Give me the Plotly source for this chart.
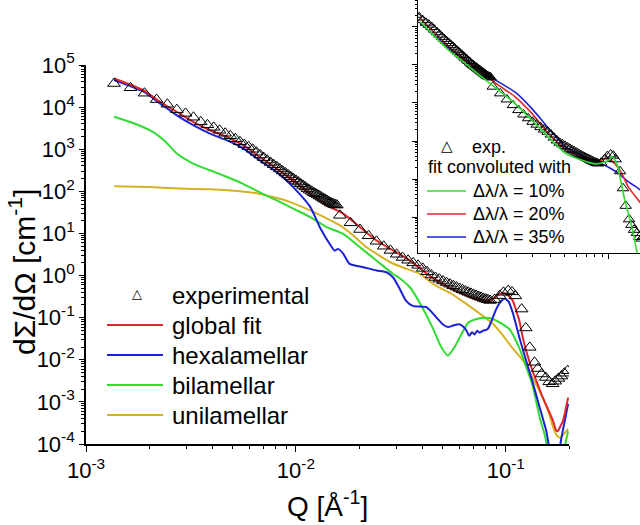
import plotly.graph_objects as go

# ---------------- data ----------------
EXP_Q = [0.00136, 0.00163, 0.00190, 0.00217, 0.00244, 0.00271, 0.00298, 0.00325, 0.00352, 0.00379,
         0.00406, 0.00433, 0.00460, 0.00487, 0.00514, 0.00541, 0.00568, 0.00595, 0.00622, 0.00649,
         0.00676, 0.00703, 0.00730, 0.00757, 0.00784, 0.00811, 0.00838, 0.00865, 0.00892, 0.00919,
         0.00946, 0.00973, 0.01000, 0.01027, 0.01054, 0.01081, 0.01108, 0.01135, 0.01162, 0.01189,
         0.01216, 0.01243, 0.01270, 0.01297, 0.01324, 0.01351, 0.01378, 0.01405, 0.01432, 0.01459,
         0.01486, 0.01513, 0.01540, 0.01567,
         0.0162, 0.0182, 0.0202, 0.0222, 0.0242, 0.0262, 0.0282, 0.0302, 0.0322, 0.0342,
         0.0362, 0.0382, 0.0402, 0.0422, 0.0442, 0.0462, 0.0482, 0.0502, 0.0522, 0.0542,
         0.0562, 0.0582, 0.0602, 0.0622, 0.0642, 0.0662, 0.0682, 0.0702, 0.0722, 0.0742,
         0.0762, 0.0782, 0.0802, 0.0822, 0.0842,
         0.0885, 0.0936, 0.0975, 0.1026, 0.107, 0.111, 0.119, 0.1245, 0.130, 0.137,
         0.142, 0.148, 0.155, 0.161, 0.167, 0.172, 0.178, 0.184, 0.190, 0.197]
EXP_I = [36300, 28800, 21400, 15100, 11700, 8700, 7100, 5750, 4470, 3800,
         3310, 2820, 2400, 2090, 1780, 1510, 1290, 1150, 1000, 850,
         731, 631, 550, 484, 427, 380, 339, 303, 272, 245,
         221, 200, 182, 166, 151, 138, 127, 116, 107, 100,
         93, 87.5, 82, 77, 72.5, 68, 64.5, 60.8, 57.5, 54.4,
         51.5, 49.5, 48, 47,
         26.9, 17.9, 12.4, 8.8, 6.5, 4.97, 3.96, 3.2, 2.69, 2.31,
         2.0, 1.75, 1.48, 1.23, 1.03, 0.90, 0.82, 0.743, 0.68, 0.624,
         0.574, 0.532, 0.494, 0.459, 0.429, 0.402, 0.378, 0.357, 0.337, 0.319,
         0.303, 0.287, 0.276, 0.266, 0.256,
         0.27, 0.334, 0.40, 0.44, 0.41, 0.33, 0.16, 0.057, 0.0197, 0.0087,
         0.0062, 0.0046, 0.0038, 0.0030, 0.0027, 0.0031, 0.0036, 0.0041, 0.0048, 0.0055]

FIT_Q = [0.00136, 0.00188, 0.00225, 0.0027, 0.00324, 0.0039, 0.0047, 0.0056, 0.0067, 0.0081,
         0.0097, 0.0117, 0.014, 0.0168, 0.0202, 0.0242, 0.029, 0.0349, 0.039, 0.045,
         0.055, 0.065, 0.072, 0.0795, 0.087, 0.093, 0.098, 0.103, 0.108, 0.112,
         0.116, 0.12, 0.125, 0.134, 0.142, 0.15, 0.16, 0.168, 0.173, 0.177,
         0.181, 0.187, 0.193, 0.198]
FIT_I = [47900, 25100, 13400, 7760, 4470, 2820, 1950, 1245, 661, 347,
         182, 88, 46.5, 29.5, 14.1, 6.8, 3.94, 2.28, 1.48, 0.87,
         0.48, 0.334, 0.278, 0.254, 0.279, 0.366, 0.38, 0.334, 0.251, 0.147,
         0.085, 0.037, 0.0164, 0.0055, 0.0026, 0.00126, 0.00062, 0.00035, 0.00022, 0.0002,
         0.00025, 0.00035, 0.00068, 0.00126]

HEXA_Q = [0.00136, 0.00188, 0.00225, 0.0027, 0.00324, 0.0039, 0.0047, 0.0056, 0.0067, 0.0081,
          0.0097, 0.0117, 0.013, 0.0145, 0.0153, 0.0159, 0.0168, 0.018, 0.021, 0.0242,
          0.027, 0.029, 0.031, 0.0335, 0.036, 0.042, 0.046, 0.05, 0.053, 0.056,
          0.06, 0.063, 0.065, 0.067, 0.069, 0.071, 0.073, 0.075, 0.078, 0.082,
          0.085, 0.09, 0.095, 0.099, 0.103, 0.108, 0.116, 0.125, 0.134, 0.145,
          0.156, 0.165, 0.175, 0.184, 0.198]
HEXA_I = [43900, 23200, 12300, 6460, 3720, 2340, 1620, 1050, 550, 288,
          126, 42.7, 14.1, 5.6, 3.9, 4.3, 3.3, 1.9, 1.58, 1.32,
          1.2, 0.91, 0.52, 0.25, 0.19, 0.176, 0.11, 0.07, 0.06, 0.065,
          0.07, 0.06, 0.049, 0.037, 0.045, 0.040, 0.049, 0.044, 0.049, 0.054,
          0.078, 0.16, 0.25, 0.28, 0.24, 0.13, 0.034, 0.0095, 0.0030, 0.00074,
          0.0002, 0.00005, 0.00004, 0.00014, 0.0009]

BI_Q = [0.00136, 0.0017, 0.00208, 0.0024, 0.0027, 0.00324, 0.0039, 0.0047, 0.0056, 0.0067,
        0.0081, 0.0097, 0.0117, 0.014, 0.0168, 0.0202, 0.0242, 0.029, 0.031, 0.035,
        0.039, 0.045, 0.049, 0.053, 0.057, 0.0615, 0.066, 0.0725, 0.08, 0.086,
        0.093, 0.1, 0.104, 0.108, 0.116, 0.125, 0.134, 0.145, 0.154, 0.165,
        0.18, 0.19, 0.198]
BI_I = [5900, 4070, 2570, 1480, 800, 457, 316, 219, 151, 95.5,
        61, 39, 24.5, 14.1, 9.8, 4.7, 2.28, 1.1, 0.89, 0.52,
        0.22, 0.055, 0.021, 0.0126, 0.02, 0.041, 0.075, 0.093, 0.1, 0.095,
        0.078, 0.062, 0.054, 0.04, 0.019, 0.0068, 0.0025, 0.00043, 0.00015, 0.00003,
        0.00003, 0.00008, 0.0002]

UNI_Q = [0.00136, 0.002, 0.003, 0.0039, 0.0054, 0.0067, 0.0078, 0.0094, 0.0112, 0.0135,
         0.0162, 0.0185, 0.0217, 0.0242, 0.028, 0.0337, 0.039, 0.045, 0.055, 0.065,
         0.075, 0.087, 0.095, 0.104, 0.112, 0.121, 0.134, 0.15, 0.16, 0.168,
         0.175, 0.181, 0.19, 0.198]
UNI_I = [132, 126, 115, 112, 100, 88, 73, 55.6, 39, 25,
         15.5, 9.5, 4.7, 3.3, 2.1, 1.44, 1.1, 0.63, 0.37, 0.21,
         0.126, 0.071, 0.043, 0.0236, 0.015, 0.0095, 0.0038, 0.00126, 0.00056, 0.00025,
         0.00016, 0.00014, 0.00018, 0.00023]

# inset: fit convoluted with different wavelength spreads
CONV10_Q = [0.0052, 0.0081, 0.0105, 0.0136, 0.0177, 0.0229, 0.0298, 0.0387, 0.0502, 0.065,
            0.081, 0.093, 0.1, 0.105, 0.113, 0.128, 0.143, 0.154, 0.165]
CONV10_I = [1380, 248, 111, 49, 21.9, 9.8, 3.57, 1.30, 0.48, 0.316,
            0.25, 0.28, 0.316, 0.39, 0.25, 0.028, 0.0055, 0.00135, 0.0003]
CONV20_Q = [0.0052, 0.0081, 0.0105, 0.0136, 0.0177, 0.0229, 0.0298, 0.0387, 0.0502, 0.065,
            0.08, 0.089, 0.095, 0.102, 0.11, 0.122, 0.135, 0.158, 0.17]
CONV20_I = [1700, 302, 135, 66, 29.5, 14.8, 5.4, 1.58, 0.63, 0.39,
            0.316, 0.316, 0.34, 0.316, 0.25, 0.141, 0.063, 0.028, 0.02]
CONV35_Q = [0.0052, 0.0081, 0.0105, 0.0136, 0.0177, 0.0229, 0.0298, 0.0387, 0.0502, 0.065,
            0.08, 0.089, 0.1, 0.116, 0.135, 0.158, 0.17]
CONV35_I = [1260, 282, 141, 70, 36, 19.5, 7.2, 2.2, 0.71, 0.43,
            0.30, 0.25, 0.2, 0.141, 0.085, 0.057, 0.045]

Y_TICKS = [1e-4, 1e-3, 1e-2, 1e-1, 1e0, 1e1, 1e2, 1e3, 1e4, 1e5]
Y_TICK_TEXT = ["10<sup>-4</sup>", "10<sup>-3</sup>", "10<sup>-2</sup>", "10<sup>-1</sup>", "10<sup>0</sup>",
               "10<sup>1</sup>", "10<sup>2</sup>", "10<sup>3</sup>", "10<sup>4</sup>", "10<sup>5</sup>"]
X_TICKS = [1e-3, 1e-2, 1e-1]
X_TICK_TEXT = ["10<sup>-3</sup>", "10<sup>-2</sup>", "10<sup>-1</sup>"]

MAIN_NAMES = ["experimental", "global fit", "hexalamellar", "bilamellar", "unilamellar"]
INSET_NAMES = ["exp.", "fit convoluted with", "Δλ/λ = 10%", "Δλ/λ = 20%", "Δλ/λ = 35%"]
X_TITLE = "Q [Å<sup>-1</sup>]"
Y_TITLE = "dΣ/dΩ [cm<sup>-1</sup>]"

RED, BLUE, GREEN, YELLOW = "#E3262A", "#1C22D4", "#30DC30", "#D6B222"
FONT = "Liberation Sans, Arial, sans-serif"

# ---------------- figure geometry (pixels) ----------------
W, H = 640, 525
ML, MB = 86, 81
PW, PH = W - ML, H - MB


def px(x):
    return (x - ML) / PW


def py(y):
    return (PH - y) / PH


fig = go.Figure()

# main plot curves
for q, i, c in [(UNI_Q, UNI_I, YELLOW), (BI_Q, BI_I, GREEN), (HEXA_Q, HEXA_I, BLUE), (FIT_Q, FIT_I, RED)]:
    fig.add_trace(go.Scatter(x=q, y=i, mode="lines", line=dict(color=c, width=2, shape="spline", smoothing=0.6),
                             xaxis="x", yaxis="y", showlegend=False))
fig.add_trace(go.Scatter(x=EXP_Q, y=EXP_I, mode="markers",
                         marker=dict(symbol="triangle-up-open", size=11, color="black", line=dict(width=1)),
                         xaxis="x", yaxis="y", showlegend=False))

# inset curves
for q, i, c in [(CONV35_Q, CONV35_I, BLUE), (CONV20_Q, CONV20_I, RED)]:
    fig.add_trace(go.Scatter(x=q, y=i, mode="lines", line=dict(color=c, width=1.6, shape="spline", smoothing=0.6),
                             xaxis="x2", yaxis="y2", showlegend=False))
fig.add_trace(go.Scatter(x=EXP_Q, y=EXP_I, mode="markers",
                         marker=dict(symbol="triangle-up-open", size=10, color="black", line=dict(width=1)),
                         xaxis="x2", yaxis="y2", showlegend=False))
fig.add_trace(go.Scatter(x=CONV10_Q, y=CONV10_I, mode="lines",
                         line=dict(color=GREEN, width=1.6, shape="spline", smoothing=0.6),
                         xaxis="x2", yaxis="y2", showlegend=False))

minor_vals = [m * 10.0 ** e for e in range(-5, 6) for m in range(2, 10)]

axis_common = dict(type="log", showgrid=False, zeroline=False, showline=True, linecolor="black",
                   ticks="outside", tickcolor="black", mirror=False)

fig.update_layout(
    width=W, height=H, margin=dict(l=ML, r=0, t=0, b=MB),
    paper_bgcolor="white", plot_bgcolor="white", template="none",
    font=dict(family=FONT, color="black"),
    xaxis=dict(**axis_common, domain=[0, px(569)], range=[-3, -0.699], linewidth=1.6,
               tickvals=X_TICKS, ticktext=X_TICK_TEXT, ticklen=6, tickwidth=1.4,
               tickfont=dict(size=22, family=FONT),
               minor=dict(tickvals=minor_vals, ticks="outside", ticklen=3, tickcolor="black", tickwidth=1),
               anchor="y"),
    yaxis=dict(**axis_common, domain=[0, py(65)], range=[-4, 5], linewidth=1.6,
               tickvals=Y_TICKS, ticktext=Y_TICK_TEXT, ticklen=5, tickwidth=1.4,
               tickfont=dict(size=22, family=FONT),
               minor=dict(tickvals=minor_vals, ticks="outside", ticklen=3, tickcolor="black", tickwidth=1),
               anchor="x"),
    xaxis2=dict(**axis_common, domain=[px(418), 1.0], range=[-2.299, -0.789], linewidth=1.3,
                tickvals=X_TICKS, showticklabels=False, ticklen=5, tickwidth=1,
                minor=dict(tickvals=minor_vals, ticks="outside", ticklen=3, tickcolor="black", tickwidth=1),
                anchor="y2"),
    yaxis2=dict(**axis_common, domain=[py(253), 1.0], range=[-2.947, 3.71], linewidth=1.3,
                tickvals=Y_TICKS, showticklabels=False, ticklen=5, tickwidth=1,
                minor=dict(tickvals=minor_vals, ticks="outside", ticklen=2, tickcolor="black", tickwidth=1),
                anchor="x2"),
)

annotations = []
shapes = []

# axis titles
annotations.append(dict(text=X_TITLE, x=px(327), y=py(504), xref="paper", yref="paper",
                        showarrow=False, xanchor="center", yanchor="middle", font=dict(size=28, family=FONT)))
annotations.append(dict(text=Y_TITLE, x=px(22), y=py(272), xref="paper", yref="paper", textangle=-90,
                        showarrow=False, xanchor="center", yanchor="middle", font=dict(size=30, family=FONT)))

# main legend
main_colors = [None, RED, BLUE, GREEN, YELLOW]
for k, (name, col) in enumerate(zip(MAIN_NAMES, main_colors)):
    yy = 295 + 30 * k
    annotations.append(dict(text=name, x=px(170), y=py(yy), xref="paper", yref="paper", showarrow=False,
                            xanchor="left", yanchor="middle", font=dict(size=24, family=FONT)))
    if col is None:
        annotations.append(dict(text="△", x=px(137), y=py(yy - 2), xref="paper", yref="paper", showarrow=False,
                                xanchor="center", yanchor="middle", font=dict(size=13, family="DejaVu Sans")))
    else:
        shapes.append(dict(type="line", xref="paper", yref="paper", x0=px(107), x1=px(163),
                           y0=py(yy), y1=py(yy), line=dict(color=col, width=2)))

# inset legend
annotations.append(dict(text="△", x=px(447), y=py(146), xref="paper", yref="paper", showarrow=False,
                        xanchor="center", yanchor="middle", font=dict(size=15, family="DejaVu Sans")))
annotations.append(dict(text=INSET_NAMES[0], x=px(470), y=py(147), xref="paper", yref="paper", showarrow=False,
                        xanchor="left", yanchor="middle", font=dict(size=18, family=FONT)))
annotations.append(dict(text=INSET_NAMES[1], x=px(426), y=py(167), xref="paper", yref="paper", showarrow=False,
                        xanchor="left", yanchor="middle", font=dict(size=18, family=FONT)))
for name, col, yy in zip(INSET_NAMES[2:], [GREEN, RED, BLUE], [191, 214, 237]):
    shapes.append(dict(type="line", xref="paper", yref="paper", x0=px(427), x1=px(466),
                       y0=py(yy), y1=py(yy), line=dict(color=col, width=1.6)))
    annotations.append(dict(text=name, x=px(471), y=py(yy), xref="paper", yref="paper", showarrow=False,
                            xanchor="left", yanchor="middle", font=dict(size=18, family=FONT)))

fig.update_layout(annotations=annotations, shapes=shapes)
fig.write_html("out.html")
